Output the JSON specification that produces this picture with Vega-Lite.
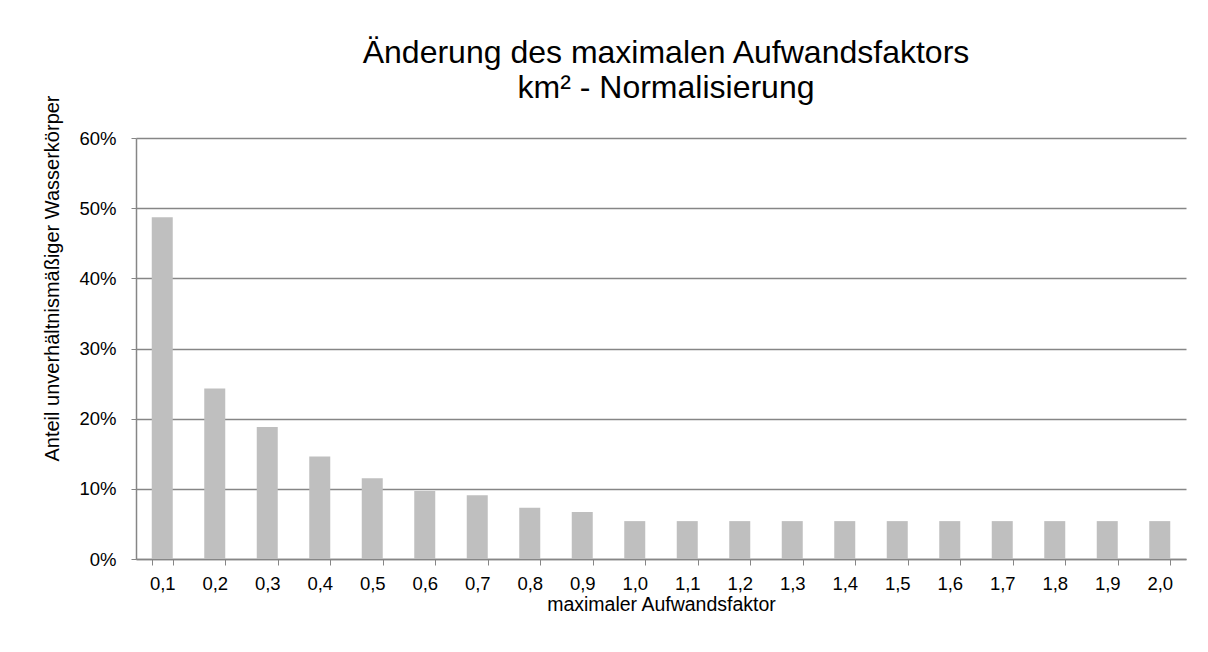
{
  "$schema": "https://vega.github.io/schema/vega-lite/v6.json",
  "width": 1050,
  "height": 421,
  "autosize": "none",
  "padding": {"left": 136, "top": 138, "right": 22, "bottom": 93},
  "background": "white",
  "title": {
    "text": ["Änderung des maximalen Aufwandsfaktors", "km² - Normalisierung"],
    "font": "Liberation Sans",
    "fontSize": 32,
    "fontWeight": "normal",
    "color": "#000000",
    "lineHeight": 35,
    "anchor": "middle",
    "frame": "group",
    "offset": 31,
    "dy": 41,
    "dx": 5
  },
  "data": {
    "values": [
      {"faktor": "0,1", "anteil": 0.487},
      {"faktor": "0,2", "anteil": 0.243},
      {"faktor": "0,3", "anteil": 0.188},
      {"faktor": "0,4", "anteil": 0.146},
      {"faktor": "0,5", "anteil": 0.115},
      {"faktor": "0,6", "anteil": 0.097},
      {"faktor": "0,7", "anteil": 0.091},
      {"faktor": "0,8", "anteil": 0.073},
      {"faktor": "0,9", "anteil": 0.067},
      {"faktor": "1,0", "anteil": 0.054},
      {"faktor": "1,1", "anteil": 0.054},
      {"faktor": "1,2", "anteil": 0.054},
      {"faktor": "1,3", "anteil": 0.054},
      {"faktor": "1,4", "anteil": 0.054},
      {"faktor": "1,5", "anteil": 0.054},
      {"faktor": "1,6", "anteil": 0.054},
      {"faktor": "1,7", "anteil": 0.054},
      {"faktor": "1,8", "anteil": 0.054},
      {"faktor": "1,9", "anteil": 0.054},
      {"faktor": "2,0", "anteil": 0.054}
    ]
  },
  "mark": {"type": "bar", "color": "#bfbfbf"},
  "encoding": {
    "x": {
      "field": "faktor",
      "type": "ordinal",
      "sort": null,
      "scale": {"paddingInner": 0.6, "paddingOuter": 0.3},
      "axis": {
        "title": "maximaler Aufwandsfaktor",
        "labelAngle": 0,
        "tickBand": "extent",
        "tickSize": 6,
        "tickColor": "#868686",
        "domainColor": "#868686",
        "domainWidth": 1.5,
        "labelPadding": 9,
        "titlePadding": 3,
        "grid": false,
        "labelFont": "Liberation Sans",
        "titleFont": "Liberation Sans",
        "labelFontSize": 18.5,
        "titleFontSize": 19.5,
        "titleFontWeight": "normal",
        "labelColor": "#000000",
        "titleColor": "#000000"
      }
    },
    "y": {
      "field": "anteil",
      "type": "quantitative",
      "scale": {"domain": [0, 0.6]},
      "axis": {
        "title": "Anteil unverhältnismäßiger Wasserkörper",
        "format": ".0%",
        "values": [0, 0.1, 0.2, 0.3, 0.4, 0.5, 0.6],
        "tickSize": 5,
        "tickColor": "#868686",
        "domainColor": "#868686",
        "domainWidth": 1.5,
        "gridColor": "#868686",
        "gridWidth": 1.5,
        "labelPadding": 15,
        "titleX": -74,
        "titleY": 140,
        "titleAlign": "center",
        "titleAngle": 270,
        "titleBaseline": "bottom",
        "labelFont": "Liberation Sans",
        "titleFont": "Liberation Sans",
        "labelFontSize": 18.5,
        "titleFontSize": 20,
        "titleFontWeight": "normal",
        "labelColor": "#000000",
        "titleColor": "#000000"
      }
    }
  },
  "config": {
    "view": {"stroke": null}
  }
}
